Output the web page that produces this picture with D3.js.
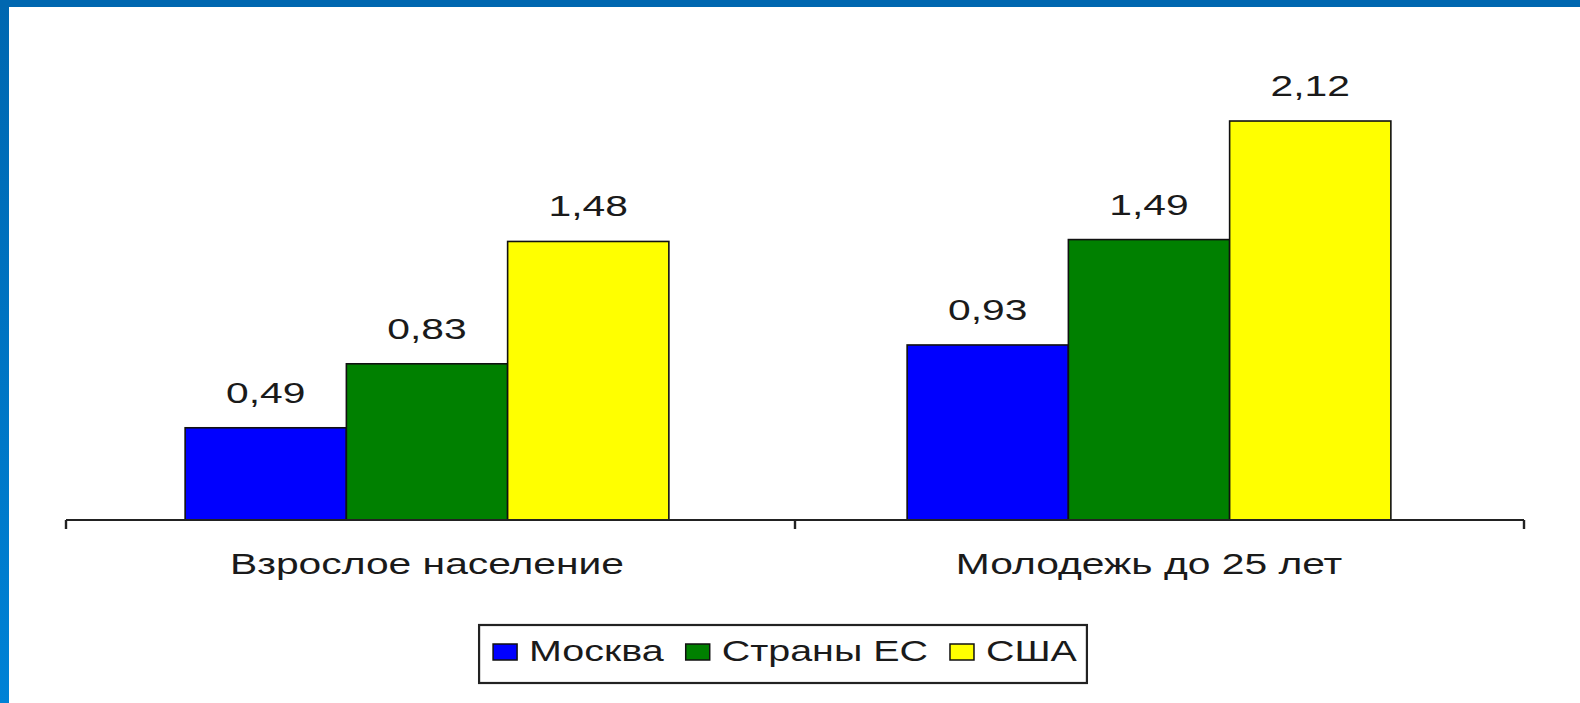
<!DOCTYPE html>
<html>
<head>
<meta charset="utf-8">
<script src="https://cdn.jsdelivr.net/npm/d3@7"></script>
<style>
  html, body { margin: 0; padding: 0; background: #fff; }
  svg { display: block; }
</style>
</head>
<body>
<svg id="chart" width="1580" height="703"></svg>
<script>
const categories = ["Взрослое население", "Молодежь до 25 лет"];
const seriesNames = ["Москва", "Страны ЕС", "США"];
const moscow = [0.49, 0.93];
const eu = [0.83, 1.49];
const usa = [1.48, 2.12];
const valueLabels = [["0,49", "0,93"], ["0,83", "1,49"], ["1,48", "2,12"]];
const seriesValues = [moscow, eu, usa];
const colors = ["#0000ff", "#008000", "#ffff00"];

const svg = d3.select("#chart");
const W = 1580, H = 703;
const SX = 1.36; // horizontal stretch of the original slide text
const FONT = "'Liberation Sans', Arial, sans-serif";

// frame
const grad = svg.append("defs").append("linearGradient")
  .attr("id", "leftGrad").attr("x1", 0).attr("y1", 0).attr("x2", 0).attr("y2", 1);
grad.append("stop").attr("offset", "0%").attr("stop-color", "#0067b0");
grad.append("stop").attr("offset", "100%").attr("stop-color", "#0082d6");
svg.append("rect").attr("x", 0).attr("y", 0).attr("width", W).attr("height", H).attr("fill", "#fff");
svg.append("rect").attr("x", 0).attr("y", 0).attr("width", 9).attr("height", H).attr("fill", "url(#leftGrad)");
svg.append("rect").attr("x", 0).attr("y", 0).attr("width", W).attr("height", 7).attr("fill", "#0067b0");

// scales
const baseY = 520;
const y = d3.scaleLinear().domain([0, 2.5]).range([baseY, baseY - 2.5 * 188.2]);
const xGroup = d3.scaleBand().domain(categories).range([66, 1510]).paddingInner(0.33).paddingOuter(0.165);
const xSeries = d3.scaleBand().domain(seriesNames).range([0, xGroup.bandwidth()]).padding(0);
const xAxisScale = d3.scaleBand().domain(categories).range([66, 1524]).padding(0);

// bars
const rows = [];
categories.forEach((c, ci) => {
  seriesNames.forEach((s, si) => {
    rows.push({ cat: c, series: s, value: seriesValues[si][ci], label: valueLabels[si][ci], color: colors[si] });
  });
});

const g = svg.append("g");
g.selectAll("rect.bar").data(rows).join("rect")
  .attr("class", "bar")
  .attr("x", d => xGroup(d.cat) + xSeries(d.series))
  .attr("y", d => y(d.value))
  .attr("width", xSeries.bandwidth())
  .attr("height", d => y(0) - y(d.value))
  .attr("fill", d => d.color)
  .attr("stroke", "#111")
  .attr("stroke-width", 1.6);

// value labels
g.selectAll("text.val").data(rows).join("text")
  .attr("class", "val")
  .attr("transform", d => `translate(${xGroup(d.cat) + xSeries(d.series) + xSeries.bandwidth() / 2},${y(d.value) - 25}) scale(${SX},1)`)
  .attr("text-anchor", "middle")
  .attr("font-family", FONT)
  .attr("font-size", 30)
  .attr("fill", "#1a1a1a")
  .text(d => d.label);

// axis
const [ax0, ax1] = xAxisScale.range();
g.append("line").attr("x1", ax0).attr("x2", ax1).attr("y1", baseY).attr("y2", baseY)
  .attr("stroke", "#222").attr("stroke-width", 2.2);
const tickXs = categories.map(c => xAxisScale(c)).concat([ax1]);
g.selectAll("line.tick").data(tickXs).join("line")
  .attr("class", "tick")
  .attr("x1", d => d).attr("x2", d => d)
  .attr("y1", baseY).attr("y2", baseY + 9)
  .attr("stroke", "#222").attr("stroke-width", 2.4);

// category labels
g.selectAll("text.cat").data(categories).join("text")
  .attr("class", "cat")
  .attr("transform", d => `translate(${xGroup(d) + xGroup.bandwidth() / 2},574) scale(${SX},1)`)
  .attr("text-anchor", "middle")
  .attr("font-family", FONT)
  .attr("font-size", 30)
  .attr("fill", "#1a1a1a")
  .text(d => d);

// legend
const lg = svg.append("g");
const box = lg.append("rect")
  .attr("fill", "#fff").attr("stroke", "#222").attr("stroke-width", 2.2);
let cx = 0;
seriesNames.forEach((s, i) => {
  const it = lg.append("g");
  it.append("rect").attr("x", cx).attr("y", -17).attr("width", 24).attr("height", 16)
    .attr("fill", colors[i]).attr("stroke", "#111").attr("stroke-width", 1.5);
  const t = it.append("text")
    .attr("transform", `translate(${cx + 36},0) scale(${SX},1)`)
    .attr("font-family", FONT).attr("font-size", 29).attr("fill", "#1a1a1a")
    .text(s);
  const tw = t.node().getComputedTextLength() * SX;
  cx += 36 + tw + 22;
});
const legendW = cx - 22;
const lx = 785 - legendW / 2;
lg.attr("transform", `translate(${lx},661)`);
box.attr("x", -14).attr("y", -36).attr("width", legendW + 24).attr("height", 58);
</script>
</body>
</html>
